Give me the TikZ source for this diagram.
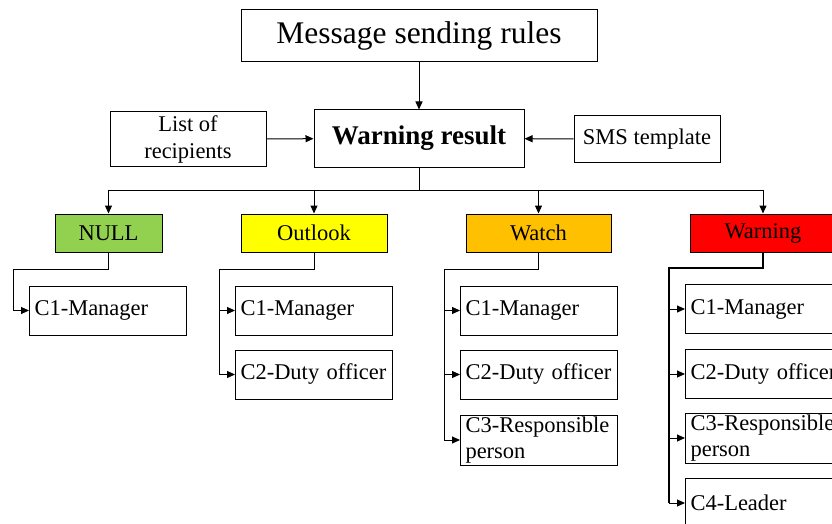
\documentclass[tikz,border=0pt]{standalone}
\usepackage{fontspec}
\setmainfont{Liberation Serif}
\usetikzlibrary{arrows.meta}
\definecolor{lvlnull}{RGB}{146,208,80}
\definecolor{lvlout}{RGB}{255,255,0}
\definecolor{lvlwatch}{RGB}{255,192,0}
\definecolor{lvlwarn}{RGB}{255,0,0}
\begin{document}
\begin{tikzpicture}[x=1pt,y=-1pt,
  box/.style={draw, line width=1pt, inner sep=0pt, align=center,
    font=\fontsize{22.5}{27}\selectfont},
  lvl/.style={box, minimum height=38pt},
  item/.style={draw, line width=1pt, anchor=west, minimum height=49pt,
    text width=147pt, inner xsep=5pt, inner ysep=0pt, align=left,
    font=\fontsize{22.5}{26}\selectfont},
  link/.style={line width=1pt},
  tip/.style={link, -{Triangle[length=8pt,width=7pt]}},
  heavy/.style={line width=1.5pt}]
\useasboundingbox (0,0) rectangle (832,524);
\clip (0,0) rectangle (832,524);

% top part
\node[box, minimum width=356pt, minimum height=52pt,
  font=\fontsize{31.5}{36}\selectfont] (rules) at (419,36) {Message sending rules};
\node[box, minimum width=210pt, minimum height=57pt,
  font=\fontsize{27}{32}\selectfont\bfseries] (result) at (419,138.5) {Warning result};
\node[box, minimum width=156pt, minimum height=55pt] (recip) at (188,139) {List of\\recipients};
\node[box, minimum width=146pt, minimum height=46pt] (sms) at (647,139) {SMS template};

\draw[tip] (rules) -- (result);
\draw[tip] (recip) -- (result);
\draw[tip] (sms) -- (result);

% warning levels
\node[lvl, fill=lvlnull, minimum width=107pt] (null) at (108.5,233) {NULL};
\node[lvl, fill=lvlout, minimum width=146pt] (out) at (314,233) {Outlook};
\node[lvl, fill=lvlwatch, minimum width=145pt] (watch) at (538.5,233) {Watch};
\node[lvl, fill=lvlwarn, minimum width=146pt] (warn) at (763,233) {Warning};

\coordinate (bus) at (419,190);
\draw[link] (result.south) -- (bus);
\draw[link] (null.north |- bus) -- (warn.north |- bus);
\foreach \n in {null,out,watch,warn}
  \draw[tip] (\n.north |- bus) -- (\n.north);

% recipients per level
\node[item] (n1) at (29,310.5) {C1-Manager};

\node[item] (o1) at (235,310.5) {C1-Manager};
\node[item] (o2) at (235,374.5) {C2-Duty officer};

\node[item] (w1) at (460,310.5) {C1-Manager};
\node[item] (w2) at (460,374.5) {C2-Duty officer};
\node[item, minimum height=50pt] (w3) at (460,440) {C3-Responsible\\person};

\node[item] (r1) at (685,309) {C1-Manager};
\node[item] (r2) at (685,374) {C2-Duty officer};
\node[item, minimum height=50pt] (r3) at (685,438) {C3-Responsible\\person};
\node[item] (r4) at (685,503) {C4-Leader};

% branch lines
\coordinate (nT) at (13,269);
\coordinate (oT) at (219,269);
\coordinate (wT) at (444,269);
\coordinate (rT) at (669,268);

\draw[tip] (null.south) |- (nT) |- (n1.west);

\draw[link] (out.south) |- (oT) -- (oT |- o2.west);
\foreach \c in {o1,o2}
  \draw[tip] (oT |- \c.west) -- (\c.west);

\draw[link] (watch.south) |- (wT) -- (wT |- w3.west);
\foreach \c in {w1,w2,w3}
  \draw[tip] (wT |- \c.west) -- (\c.west);

\draw[link, heavy] (warn.south) |- (rT) -- (rT |- r4.west);
\foreach \c in {r1,r2,r3,r4}
  \draw[tip] (rT |- \c.west) -- (\c.west);
\end{tikzpicture}
\end{document}
